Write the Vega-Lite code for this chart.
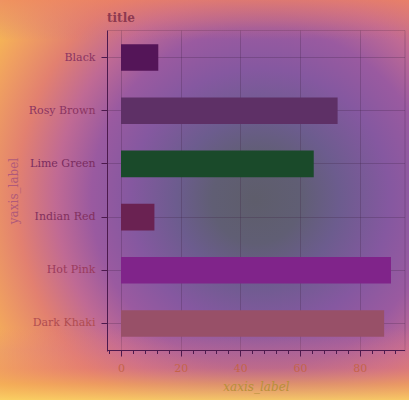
{
  "$schema": "https://vega.github.io/schema/vega-lite/v6.json",
  "width": 409,
  "height": 400,
  "padding": 0,
  "autosize": {"type": "none"},
  "background": "#e08070",
  "config": {
    "font": "DejaVu Serif",
    "view": {
      "stroke": null,
      "fill": {
        "gradient": "radial",
        "x1": 0.623, "y1": 0.5, "r1": 0,
        "x2": 0.66, "y2": 0.488, "r2": 0.905,
        "stops": [
          {"offset": 0, "color": "#5e5d6b"},
          {"offset": 0.12, "color": "#605e74"},
          {"offset": 0.22, "color": "#6c5c8e"},
          {"offset": 0.35, "color": "#8558a0"},
          {"offset": 0.46, "color": "#9a5aa0"},
          {"offset": 0.56, "color": "#c06a94"},
          {"offset": 0.67, "color": "#e28070"},
          {"offset": 0.78, "color": "#f0a060"},
          {"offset": 0.88, "color": "#f8c050"},
          {"offset": 1, "color": "#fae488"}
        ]
      }
    },
    "axis": {
      "labelFont": "DejaVu Serif",
      "titleFont": "DejaVu Serif",
      "titleFontWeight": "normal",
      "domainColor": "#4d1a4d",
      "tickColor": "#4d1a4d",
      "domainWidth": 1,
      "tickWidth": 1
    }
  },
  "title": {
    "text": "title",
    "anchor": "start",
    "frame": "group",
    "fontSize": 12,
    "fontWeight": "bold",
    "font": "DejaVu Serif",
    "color": "#8e3a50",
    "baseline": "alphabetic",
    "offset": 0,
    "dx": 107,
    "dy": 34
  },
  "data": {
    "values": [
      {"label": "Black", "value": 12.5},
      {"label": "Rosy Brown", "value": 72.6},
      {"label": "Lime Green", "value": 64.6},
      {"label": "Indian Red", "value": 11.2},
      {"label": "Hot Pink", "value": 90.5},
      {"label": "Dark Khaki", "value": 88.2}
    ]
  },
  "layer": [
    {
      "transform": [{"aggregate": [{"op": "count", "as": "n"}]}],
      "mark": {
        "type": "rect",
        "fill": {
          "gradient": "linear",
          "x1": 0, "y1": 0, "x2": 0, "y2": 1,
          "stops": [
            {"offset": 0, "color": "rgba(236,128,100,0.72)"},
            {"offset": 0.05, "color": "rgba(225,120,115,0.4)"},
            {"offset": 0.1, "color": "rgba(210,110,130,0)"},
            {"offset": 0.82, "color": "rgba(230,120,130,0)"},
            {"offset": 0.875, "color": "rgba(225,120,130,0.3)"},
            {"offset": 0.92, "color": "rgba(232,125,112,0.45)"},
            {"offset": 0.96, "color": "rgba(242,165,90,0.7)"},
            {"offset": 1, "color": "rgba(250,208,100,0.9)"}
          ]
        }
      },
      "encoding": {}
    },
    {
      "mark": {"type": "bar"},
      "encoding": {
        "y": {
          "field": "label",
          "type": "nominal",
          "sort": ["Black", "Rosy Brown", "Lime Green", "Indian Red", "Hot Pink", "Dark Khaki"],
          "scale": {"range": [30, 351], "paddingInner": 0.5, "paddingOuter": 0.267},
          "axis": {
            "orient": "left",
            "offset": -107,
            "zindex": 1,
            "grid": false,
            "tickSize": 6,
            "labelPadding": 6,
            "labelFontSize": 11,
            "labelColor": {
              "condition": [
                {"test": "datum.value === 'Dark Khaki'", "value": "#b04c50"},
                {"test": "datum.value === 'Hot Pink'", "value": "#9a3a5c"},
                {"test": "datum.value === 'Lime Green'", "value": "#7a2c60"},
                {"test": "datum.value === 'Indian Red'", "value": "#82305e"}
              ],
              "value": "#8a3462"
            },
            "title": "yaxis_label",
            "titleFontSize": 12,
            "titleColor": "#b05a7a",
            "titlePadding": 8
          }
        },
        "x": {
          "field": "value",
          "type": "quantitative",
          "scale": {"domain": [-4.525, 95.025], "range": [107.5, 404.5], "nice": false, "zero": false},
          "axis": {
            "orient": "bottom",
            "offset": -50,
            "zindex": 1,
            "grid": false,
            "values": [0, 20, 40, 60, 80],
            "tickSize": 6,
            "labelPadding": 6,
            "labelFontSize": 11,
            "labelColor": "#c4644a",
            "title": "xaxis_label",
            "titleFontSize": 12,
            "titleFontStyle": "italic",
            "titleColor": "#b8903a",
            "titlePadding": 8
          }
        },
        "color": {
          "field": "label",
          "type": "nominal",
          "legend": null,
          "scale": {
            "domain": ["Black", "Rosy Brown", "Lime Green", "Indian Red", "Hot Pink", "Dark Khaki"],
            "range": ["#541558", "#5e3066", "#1a4a2a", "#6a2252", "#80248a", "#985068"]
          }
        }
      }
    },
    {
      "mark": {"type": "bar", "opacity": 0},
      "encoding": {
        "y": {
          "field": "label",
          "type": "nominal",
          "sort": ["Black", "Rosy Brown", "Lime Green", "Indian Red", "Hot Pink", "Dark Khaki"],
          "axis": {
            "orient": "right",
            "offset": -4.5,
            "zindex": 0,
            "grid": false,
            "ticks": false,
            "labels": false,
            "title": null,
            "domainColor": "#3a2040",
            "domainOpacity": 0.25
          }
        },
        "x": {
          "field": "value",
          "type": "quantitative",
          "axis": {
            "orient": "bottom",
            "offset": -50,
            "zindex": 1,
            "grid": false,
            "domain": false,
            "labels": false,
            "title": null,
            "values": [-4, 0, 4, 8, 12, 16, 20, 24, 28, 32, 36, 40, 44, 48, 52, 56, 60, 64, 68, 72, 76, 80, 84, 88, 92],
            "tickSize": 3.5
          }
        }
      }
    },
    {
      "mark": {"type": "bar", "opacity": 0},
      "encoding": {
        "y": {
          "field": "label",
          "type": "nominal",
          "sort": ["Black", "Rosy Brown", "Lime Green", "Indian Red", "Hot Pink", "Dark Khaki"],
          "axis": {
            "orient": "left",
            "offset": -107,
            "zindex": 0,
            "grid": true,
            "gridColor": "#3a2040",
            "gridOpacity": 0.25,
            "domain": false,
            "ticks": false,
            "labels": false,
            "title": null
          }
        },
        "x": {
          "field": "value",
          "type": "quantitative",
          "axis": {
            "orient": "top",
            "offset": -30,
            "zindex": 0,
            "grid": true,
            "gridColor": "#3a2040",
            "gridOpacity": 0.25,
            "values": [0, 20, 40, 60, 80],
            "ticks": false,
            "labels": false,
            "title": null,
            "domainColor": "#3a2040",
            "domainOpacity": 0.25
          }
        }
      }
    }
  ],
  "resolve": {"axis": {"x": "independent", "y": "independent"}}
}
